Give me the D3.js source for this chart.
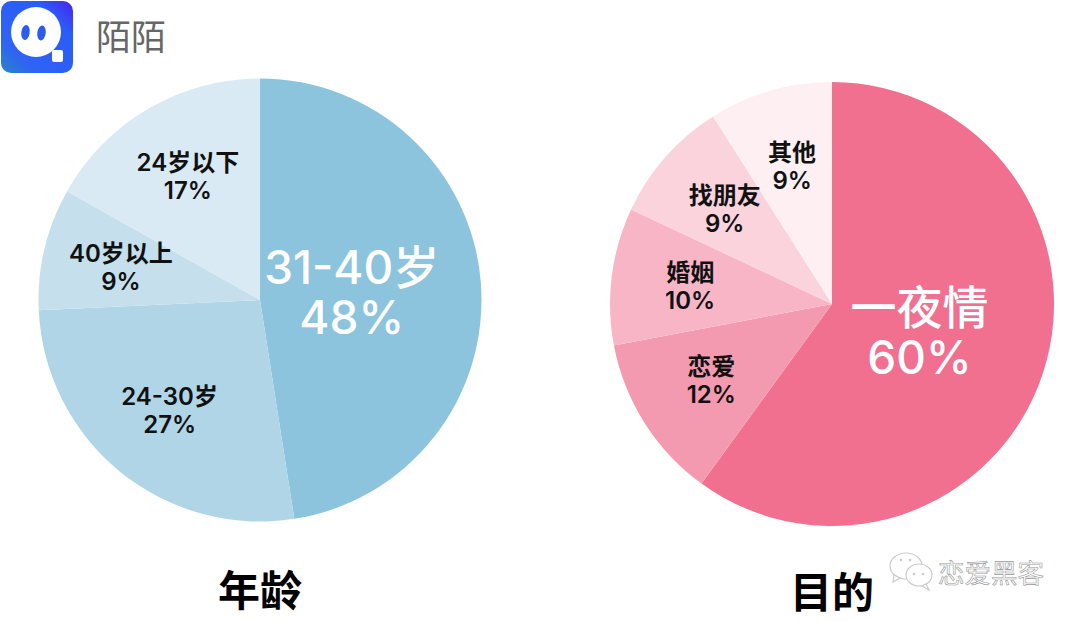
<!DOCTYPE html>
<html><head><meta charset="utf-8">
<script src="https://cdn.jsdelivr.net/npm/d3@7/dist/d3.min.js"></script>
<style>html,body{margin:0;padding:0;background:#fff}svg{display:block}text{font-family:Inter,"Noto Sans CJK SC","Noto Sans",sans-serif}</style>
</head><body><svg id="c" width="1080" height="621"></svg>
<script>
const ageCategories=["31-40岁","24-30岁","40岁以上","24岁以下"];
const ageValues=[48,27,9,17];
const ageColors=["#8cc4de","#b0d5e7","#c5dfed","#d9eaf4"];
const purposeCategories=["一夜情","恋爱","婚姻","找朋友","其他"];
const purposeValues=[60,12,10,9,9];
const purposeColors=["#f1708f","#f49ab0","#f8b5c6","#fad3dd","#fdeff2"];

const svg=d3.select("#c");
function drawPie(cx,cy,r,cats,vals,cols,title,titleX,titleY){
  const g=svg.append("g").attr("transform",`translate(${cx},${cy})`);
  const pie=d3.pie().sort(null)(vals);
  const arc=d3.arc().innerRadius(0).outerRadius(r);
  g.selectAll("path").data(pie).join("path").attr("d",arc).attr("fill",(d,i)=>cols[i]);
  pie.forEach((d,i)=>{
    const big=i===0, lr=big?92:143, m=(d.startAngle+d.endAngle)/2;
    const x=lr*Math.sin(m), y=-lr*Math.cos(m), fs=big?46:24, lh=big?56:28;
    const t=g.append("text").attr("text-anchor","middle").attr("font-size",fs)
      .attr("fill",big?"#fff":"#111").attr("font-weight",big?500:600);
    t.append("tspan").attr("x",x).attr("y",y-lh*0.5+fs*0.36+(big?3:0)).text(cats[i]);
    t.append("tspan").attr("x",x).attr("y",y+lh*0.5+fs*0.36-(big?3:0)).text(vals[i]+"%");
  });
  svg.append("text").attr("x",titleX).attr("y",titleY).attr("text-anchor","middle")
    .attr("font-size",42).attr("font-weight",700).attr("fill","#000").text(title);
}
drawPie(260,300,221.5,ageCategories,ageValues,ageColors,"年龄",260,606);
drawPie(832,304,222,purposeCategories,purposeValues,purposeColors,"目的",832,608);

// logo
const defs=svg.append("defs");
const lg=defs.append("linearGradient").attr("id","lg").attr("x1","0").attr("y1","1").attr("x2","1").attr("y2","0");
[[0,"#2a86c8"],[0.25,"#2f62f5"],[0.75,"#2a5cf8"],[1,"#4a22f0"]].forEach(s=>lg.append("stop").attr("offset",s[0]).attr("stop-color",s[1]));
const logo=svg.append("g");
logo.append("rect").attr("x",1).attr("y",1).attr("width",72).attr("height",72).attr("rx",10).attr("fill","url(#lg)");
logo.append("circle").attr("cx",36).attr("cy",32).attr("r",25).attr("fill","#fff");
logo.append("rect").attr("x",52).attr("y",50).attr("width",11).attr("height",12).attr("rx",2).attr("fill","#fff");
logo.append("ellipse").attr("cx",25.5).attr("cy",32.5).attr("rx",4.2).attr("ry",7.5).attr("transform","rotate(8 25.5 32.5)").attr("fill","#2a5cf0");
logo.append("ellipse").attr("cx",41.5).attr("cy",33).attr("rx",4.2).attr("ry",7.5).attr("transform","rotate(8 41.5 33)").attr("fill","#2a5cf0");
svg.append("text").attr("x",96).attr("y",50).attr("font-size",35).attr("fill","#666").text("陌陌");

// watermark
const wm=svg.append("g").attr("fill","#fff").attr("stroke","#ccc").attr("stroke-width",1.2);
wm.append("ellipse").attr("cx",906).attr("cy",566).attr("rx",16).attr("ry",13);
wm.append("path").attr("d","M894 575 L893 582 L900 578Z");
wm.append("ellipse").attr("cx",919).attr("cy",575).attr("rx",13).attr("ry",11);
wm.append("path").attr("d","M926 584 L929 590 L922 586Z");
[[901,560],[910,560],[914,574],[923,574]].forEach(p=>wm.append("circle").attr("cx",p[0]).attr("cy",p[1]).attr("r",1.3).attr("fill","#ccc").attr("stroke","none"));
svg.append("text").attr("x",938).attr("y",583).attr("font-size",26.5).attr("fill","#fff")
  .attr("stroke","#999").attr("stroke-width",0.6).text("恋爱黑客");
</script></body></html>
